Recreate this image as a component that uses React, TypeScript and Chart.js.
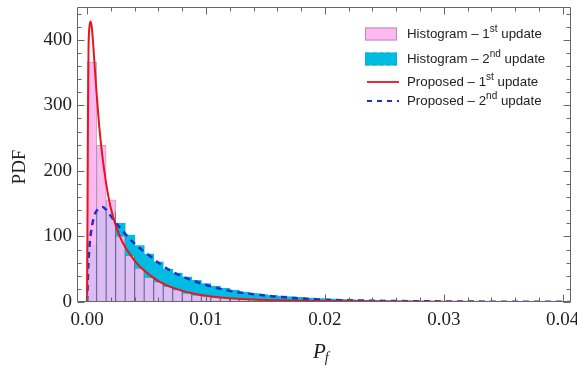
import { useEffect, useRef } from "react";
import { Chart, registerables } from "chart.js";

Chart.register(...registerables);

// ---- data -------------------------------------------------------------
const BIN_START = 0;
const BIN_WIDTH = 0.0008;

// histogram heights (PDF) per bin, 1st update
const firstUpdateHist = [
  366, 239, 156, 100, 70, 51, 37, 30, 23, 18,
  13, 10, 8.5, 7, 6, 5, 4.3, 3.6, 3, 2.6,
  2.2, 1.9, 1.6, 1.4, 1.2, 1.0, 0.9, 0.8, 0.7, 0.6,
  0.5, 0.45, 0.4, 0.35, 0.3, 0.28, 0.25, 0.22, 0.2, 0.18,
  0.16, 0.14, 0.12, 0.11, 0.1, 0.09, 0.08, 0.07, 0.06, 0.05,
];

// histogram heights (PDF) per bin, 2nd update
const secondUpdateHist = [
  87, 140, 137, 120, 102, 86, 73, 61, 50, 44,
  38, 33, 28, 24, 21, 18, 15, 13, 11, 10,
  9, 8, 7, 6, 5.2, 4.6, 4, 3.5, 3, 2.6,
  2.3, 2, 1.8, 1.6, 1.4, 1.2, 1.1, 1, 0.9, 0.8,
  0.7, 0.6, 0.55, 0.5, 0.45, 0.4, 0.35, 0.3, 0.28, 0.25,
];

// proposed density, 1st update
const proposedFirstX = [
  0, 0.00003, 0.00007, 0.00012, 0.0002, 0.0003, 0.0004, 0.0005, 0.0006, 0.0008,
  0.001, 0.0012, 0.0014, 0.0016, 0.0018, 0.002, 0.0024, 0.0028, 0.0032, 0.0036,
  0.004, 0.0045, 0.005, 0.0055, 0.006, 0.007, 0.008, 0.009, 0.01, 0.011,
  0.012, 0.014, 0.016, 0.018, 0.02, 0.025, 0.03, 0.035, 0.04, 0.041,
];
const proposedFirstY = [
  0, 115, 280, 385, 420, 428, 418, 396, 370, 318,
  272, 236, 206, 181, 160, 143, 117, 98, 84, 73,
  63, 53, 45, 38, 32, 23, 17, 12.5, 9.5, 7.3,
  5.8, 3.8, 2.7, 1.9, 1.4, 0.7, 0.35, 0.18, 0.1, 0.08,
];

// proposed density, 2nd update
const proposedSecondX = [
  0, 0.00005, 0.0001, 0.0002, 0.0003, 0.0005, 0.0007, 0.001, 0.0013, 0.0016,
  0.002, 0.0025, 0.003, 0.0035, 0.004, 0.0045, 0.005, 0.006, 0.007, 0.008,
  0.009, 0.01, 0.011, 0.012, 0.013, 0.014, 0.015, 0.016, 0.018, 0.02,
  0.022, 0.025, 0.03, 0.035, 0.04, 0.041,
];
const proposedSecondY = [
  0, 30, 55, 85, 103, 124, 136, 143, 145, 141,
  131, 119, 108, 98, 89, 81, 74, 60, 48, 39,
  32, 26, 21, 17, 14, 12, 10, 8, 5.2, 3.4,
  2.5, 1.7, 0.9, 0.45, 0.2, 0.18,
];

const xTickValues = [0, 0.01, 0.02, 0.03, 0.04];
const yTickValues = [0, 100, 200, 300, 400];

const LABEL_HIST_1 = "Histogram – 1st update";
const LABEL_HIST_2 = "Histogram – 2nd update";
const LABEL_PROP_1 = "Proposed – 1st update";
const LABEL_PROP_2 = "Proposed – 2nd update";

// ---- styles -----------------------------------------------------------
const W = 577;
const H = 366;
const PINK = "#ffb9f0";
const LAVENDER = "#dcbcf5";
const CYAN = "#00bce1";
const RED = "#e8141e";
const BLUE = "#1c2fd0";
const FRAME = "#666666";
const BAR_EDGE = "rgba(120,100,130,0.55)";
const SERIF = "'Liberation Serif', 'Times New Roman', serif";
const SANS = "'Liberation Sans', Arial, sans-serif";

const binCenters = firstUpdateHist.map((_, i) => BIN_START + BIN_WIDTH * (i + 0.5));
const firstBars = firstUpdateHist.map((v, i) => ({ x: binCenters[i], y: v }));
const secondBars = secondUpdateHist.map((v, i) => ({ x: binCenters[i], y: v }));
const overlapBars = firstUpdateHist.map((v, i) => ({
  x: binCenters[i],
  y: Math.min(v, secondUpdateHist[i]),
}));
const firstCurve = proposedFirstX.map((x, i) => ({ x, y: proposedFirstY[i] }));
const secondCurve = proposedSecondX.map((x, i) => ({ x, y: proposedSecondY[i] }));

// splits "Histogram – 1st update" into base / superscript / tail
function splitOrdinal(label: string) {
  const m = label.match(/^(.*\d)(st|nd|rd|th)(.*)$/);
  if (!m) return { base: label, sup: "", tail: "" };
  return { base: m[1], sup: m[2], tail: m[3] };
}

// frame with inward ticks on all four sides, axis titles and legend
const frameTicks = {
  id: "frameTicks",
  afterDraw(chart: any) {
    const { ctx, chartArea } = chart;
    const { left, right, top, bottom } = chartArea;
    const xs = chart.scales.x;
    const ys = chart.scales.y;
    ctx.save();
    ctx.strokeStyle = FRAME;
    ctx.lineWidth = 1;
    const L = Math.round(left) + 0.5;
    const R = Math.round(right) - 0.5;
    const T = Math.round(top) + 0.5;
    const B = Math.round(bottom) - 0.5;
    ctx.beginPath();
    ctx.rect(L, T, R - L, B - T);
    ctx.stroke();

    ctx.beginPath();
    for (let k = 0; k <= 20; k++) {
      const v = k * 0.002;
      const px = Math.round(xs.getPixelForValue(v)) + 0.5;
      const len = k % 5 === 0 ? 7 : 4;
      ctx.moveTo(px, B);
      ctx.lineTo(px, B - len);
      ctx.moveTo(px, T);
      ctx.lineTo(px, T + len);
    }
    for (let k = 0; k <= 22; k++) {
      const v = k * 20;
      const py = Math.round(ys.getPixelForValue(v)) + 0.5;
      const len = k % 5 === 0 ? 7 : 4;
      ctx.moveTo(L, py);
      ctx.lineTo(L + len, py);
      ctx.moveTo(R, py);
      ctx.lineTo(R - len, py);
    }
    ctx.stroke();

    // axis titles
    ctx.fillStyle = "#222";
    ctx.save();
    ctx.translate(20, 167);
    ctx.rotate(-Math.PI / 2);
    ctx.font = `19px ${SERIF}`;
    ctx.textAlign = "center";
    ctx.textBaseline = "middle";
    ctx.fillText("PDF", 0, 0);
    ctx.restore();

    ctx.textAlign = "left";
    ctx.textBaseline = "alphabetic";
    ctx.font = `italic 21px ${SERIF}`;
    const pW = ctx.measureText("P").width;
    const px0 = 313;
    ctx.fillText("P", px0, 358);
    ctx.font = `italic 14px ${SERIF}`;
    ctx.fillText("f", px0 + pW - 1, 362);

    // legend
    const rows = [
      { label: LABEL_HIST_1, kind: "box", fill: PINK, stroke: "#b48cc0", dash: [] as number[], y: 34 },
      { label: LABEL_HIST_2, kind: "box", fill: CYAN, stroke: "#20a6cc", dash: [4, 3], y: 59 },
      { label: LABEL_PROP_1, kind: "line", fill: RED, stroke: RED, dash: [] as number[], y: 82 },
      { label: LABEL_PROP_2, kind: "line", fill: BLUE, stroke: BLUE, dash: [5, 5], y: 101 },
    ];
    for (const r of rows) {
      if (r.kind === "box") {
        ctx.fillStyle = r.fill;
        ctx.fillRect(365, r.y - 6.5, 32, 13);
        ctx.strokeStyle = r.stroke;
        ctx.lineWidth = 1;
        ctx.setLineDash(r.dash);
        ctx.strokeRect(365.5, r.y - 6, 31, 12);
      } else {
        ctx.strokeStyle = r.stroke;
        ctx.lineWidth = r.dash.length ? 2.2 : 1.8;
        ctx.setLineDash(r.dash);
        ctx.beginPath();
        ctx.moveTo(367, r.y);
        ctx.lineTo(399, r.y);
        ctx.stroke();
      }
      ctx.setLineDash([]);
      const { base, sup, tail } = splitOrdinal(r.label);
      ctx.fillStyle = "#222";
      ctx.textBaseline = "middle";
      ctx.font = `13.3px ${SANS}`;
      let tx = 407;
      ctx.fillText(base, tx, r.y);
      tx += ctx.measureText(base).width;
      ctx.font = `10px ${SANS}`;
      ctx.fillText(sup, tx, r.y - 5);
      tx += ctx.measureText(sup).width;
      ctx.font = `13.3px ${SANS}`;
      ctx.fillText(tail, tx, r.y);
    }
    ctx.restore();
  },
};

export default function App() {
  const ref = useRef<HTMLCanvasElement>(null);

  useEffect(() => {
    const canvas = ref.current;
    if (!canvas) return;
    const chart = new Chart(canvas, {
      type: "bar",
      data: {
        datasets: [
          {
            type: "line",
            label: LABEL_PROP_1,
            data: firstCurve,
            borderColor: RED,
            borderWidth: 2,
            pointRadius: 0,
            cubicInterpolationMode: "monotone",
            order: 0,
          } as any,
          {
            type: "line",
            label: LABEL_PROP_2,
            data: secondCurve,
            borderColor: BLUE,
            borderWidth: 2.5,
            borderDash: [6, 5],
            pointRadius: 0,
            cubicInterpolationMode: "monotone",
            order: 1,
          } as any,
          {
            type: "bar",
            label: "overlap",
            data: overlapBars,
            backgroundColor: LAVENDER,
            borderColor: BAR_EDGE,
            borderWidth: 1,
            borderSkipped: "top",
            grouped: false,
            barPercentage: 1,
            categoryPercentage: 1,
            order: 2,
          } as any,
          {
            type: "bar",
            label: LABEL_HIST_1,
            data: firstBars,
            backgroundColor: PINK,
            borderColor: BAR_EDGE,
            borderWidth: 1,
            grouped: false,
            barPercentage: 1,
            categoryPercentage: 1,
            order: 3,
          } as any,
          {
            type: "bar",
            label: LABEL_HIST_2,
            data: secondBars,
            backgroundColor: CYAN,
            borderWidth: 0,
            grouped: false,
            barPercentage: 1,
            categoryPercentage: 1,
            order: 4,
          } as any,
        ],
      },
      options: {
        responsive: false,
        animation: false,
        devicePixelRatio: 1,
        layout: { padding: { left: 0, right: 6, top: 7, bottom: 0 } },
        plugins: {
          legend: { display: false },
          tooltip: { enabled: false },
        },
        scales: {
          x: {
            type: "linear",
            offset: false,
            min: -0.00085,
            max: 0.0407,
            grid: { display: false, drawTicks: false, offset: false },
            border: { display: false },
            ticks: {
              maxRotation: 0,
              autoSkip: false,
              padding: 7,
              color: "#222",
              font: { family: SERIF, size: 19 },
              callback: (v: any) => Number(v).toFixed(2),
            },
            afterBuildTicks: (s: any) => {
              s.ticks = xTickValues.map((value) => ({ value }));
            },
            afterFit: (s: any) => {
              s.height = H - 302;
              s.paddingLeft = 0;
              s.paddingRight = 0;
            },
          },
          y: {
            type: "linear",
            min: 0,
            max: 450,
            grid: { display: false, drawTicks: false },
            border: { display: false },
            ticks: {
              padding: 5,
              color: "#222",
              font: { family: SERIF, size: 19 },
            },
            afterBuildTicks: (s: any) => {
              s.ticks = yTickValues.map((value) => ({ value }));
            },
            afterFit: (s: any) => {
              s.width = 77;
              s.paddingTop = 0;
              s.paddingBottom = 0;
            },
          },
        },
      },
      plugins: [frameTicks],
    } as any);
    return () => chart.destroy();
  }, []);

  return (
    <div style={{ position: "fixed", left: 0, top: 0, width: W, height: H, background: "#fff" }}>
      <canvas ref={ref} width={W} height={H} style={{ display: "block", width: W, height: H }} />
    </div>
  );
}
